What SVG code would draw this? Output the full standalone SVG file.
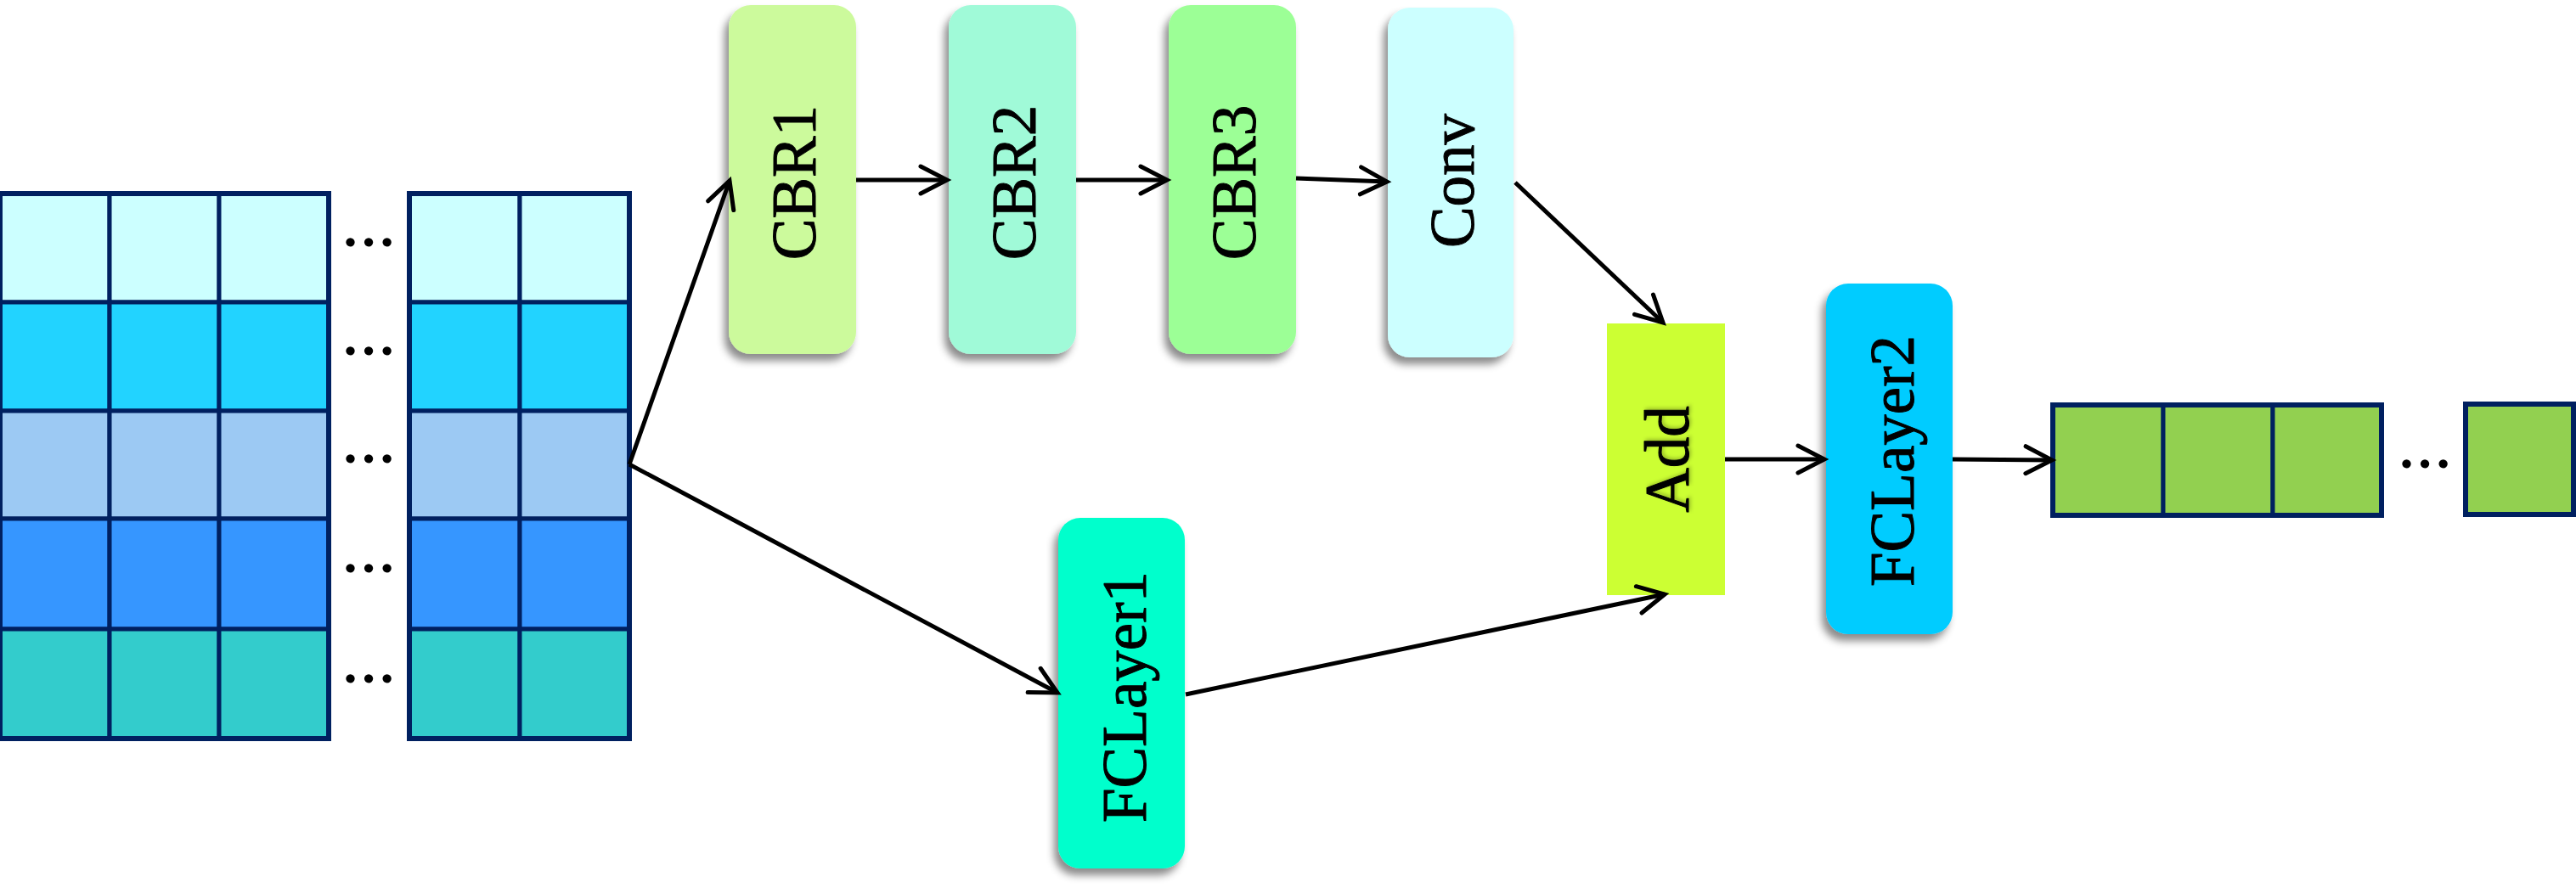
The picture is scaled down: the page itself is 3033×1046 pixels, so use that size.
<svg xmlns="http://www.w3.org/2000/svg" width="3033" height="1046" viewBox="0 0 3033 1046">
  <style>
    .cell { stroke: #002060; stroke-width: 5; }
    .outer { fill: none; stroke: #002060; stroke-width: 6; }
    .dots { font-family: "Liberation Serif", serif; font-size: 64px; font-weight: bold; fill: #000; text-anchor: middle; }
    .label { font-family: "Liberation Serif", "Times New Roman", serif; font-size: 73px; fill: #000; stroke: #000; stroke-width: 1; stroke-linejoin: round; text-anchor: middle; }
    .edge { fill: none; stroke: #000; stroke-width: 5; marker-end: url(#arrow); }
  </style>
  <defs>
    <filter id="shadow" x="-30%" y="-10%" width="160%" height="125%">
      <feDropShadow dx="-5" dy="8" stdDeviation="5" flood-color="#000" flood-opacity="0.45"/>
    </filter>
    <filter id="text-glow" x="-10%" y="-10%" width="130%" height="130%">
      <feDropShadow dx="2" dy="2" stdDeviation="2" flood-color="#000" flood-opacity="0.25"/>
    </filter>
    <marker id="arrow" markerUnits="userSpaceOnUse" markerWidth="44" markerHeight="40" viewBox="-38 -20 44 40" refX="0" refY="0" orient="auto" overflow="visible">
      <path d="M-31,-16 L0,0 L-31,16" fill="none" stroke="#000" stroke-width="5" stroke-linecap="round"/>
    </marker>
  </defs>

  <rect width="3033" height="1046" fill="#fff"/>

  <!-- input feature matrix -->
  <g id="input-matrix">
    <g id="row1">
      <rect class="cell" x="0" y="228" width="129" height="128" fill="#CCFFFF"/>
      <rect class="cell" x="129" y="228" width="129" height="128" fill="#CCFFFF"/>
      <rect class="cell" x="258" y="228" width="129" height="128" fill="#CCFFFF"/>
      <rect class="cell" x="482" y="228" width="130" height="128" fill="#CCFFFF"/>
      <rect class="cell" x="612" y="228" width="129" height="128" fill="#CCFFFF"/>
    </g>
    <g id="row2">
      <rect class="cell" x="0" y="356" width="129" height="128" fill="#22D3FF"/>
      <rect class="cell" x="129" y="356" width="129" height="128" fill="#22D3FF"/>
      <rect class="cell" x="258" y="356" width="129" height="128" fill="#22D3FF"/>
      <rect class="cell" x="482" y="356" width="130" height="128" fill="#22D3FF"/>
      <rect class="cell" x="612" y="356" width="129" height="128" fill="#22D3FF"/>
    </g>
    <g id="row3">
      <rect class="cell" x="0" y="484" width="129" height="127" fill="#9CC9F3"/>
      <rect class="cell" x="129" y="484" width="129" height="127" fill="#9CC9F3"/>
      <rect class="cell" x="258" y="484" width="129" height="127" fill="#9CC9F3"/>
      <rect class="cell" x="482" y="484" width="130" height="127" fill="#9CC9F3"/>
      <rect class="cell" x="612" y="484" width="129" height="127" fill="#9CC9F3"/>
    </g>
    <g id="row4">
      <rect class="cell" x="0" y="611" width="129" height="130" fill="#3696FF"/>
      <rect class="cell" x="129" y="611" width="129" height="130" fill="#3696FF"/>
      <rect class="cell" x="258" y="611" width="129" height="130" fill="#3696FF"/>
      <rect class="cell" x="482" y="611" width="130" height="130" fill="#3696FF"/>
      <rect class="cell" x="612" y="611" width="129" height="130" fill="#3696FF"/>
    </g>
    <g id="row5">
      <rect class="cell" x="0" y="741" width="129" height="129" fill="#33CCCC"/>
      <rect class="cell" x="129" y="741" width="129" height="129" fill="#33CCCC"/>
      <rect class="cell" x="258" y="741" width="129" height="129" fill="#33CCCC"/>
      <rect class="cell" x="482" y="741" width="130" height="129" fill="#33CCCC"/>
      <rect class="cell" x="612" y="741" width="129" height="129" fill="#33CCCC"/>
    </g>
    <rect class="outer" x="0" y="228" width="387" height="642"/>
    <rect class="outer" x="482" y="228" width="259" height="642"/>
    <text class="dots" x="434" y="290">…</text>
    <text class="dots" x="434" y="418">…</text>
    <text class="dots" x="434" y="545">…</text>
    <text class="dots" x="434" y="674">…</text>
    <text class="dots" x="434" y="804">…</text>
  </g>

  <!-- convolution branch -->
  <g id="cbr1">
    <rect x="858" y="6" width="150" height="411" rx="26" fill="#CCFA9C" filter="url(#shadow)"/>
    <text class="label" transform="translate(960,215) rotate(-90)">CBR1</text>
  </g>
  <g id="cbr2">
    <rect x="1117" y="6" width="150" height="411" rx="26" fill="#A0FAD8" filter="url(#shadow)"/>
    <text class="label" transform="translate(1219,215) rotate(-90)">CBR2</text>
  </g>
  <g id="cbr3">
    <rect x="1376" y="6" width="150" height="411" rx="26" fill="#9CFF96" filter="url(#shadow)"/>
    <text class="label" transform="translate(1478,215) rotate(-90)">CBR3</text>
  </g>
  <g id="conv">
    <rect x="1634" y="9" width="148" height="412" rx="26" fill="#CCFFFF" filter="url(#shadow)"/>
    <text class="label" transform="translate(1735,213) rotate(-90)">Conv</text>
  </g>

  <!-- fully connected branch -->
  <g id="fclayer1">
    <rect x="1246" y="610" width="149" height="413" rx="26" fill="#00FFCC" filter="url(#shadow)"/>
    <text class="label" transform="translate(1349,821) rotate(-90)">FCLayer1</text>
  </g>

  <g id="add">
    <rect x="1892" y="381" width="139" height="320" fill="#CCFF33"/>
    <text class="label" transform="translate(1988,541) rotate(-90)" filter="url(#text-glow)">Add</text>
  </g>

  <g id="fclayer2">
    <rect x="2150" y="334" width="149" height="413" rx="26" fill="#00CCFF" filter="url(#shadow)"/>
    <text class="label" transform="translate(2253,543) rotate(-90)">FCLayer2</text>
  </g>

  <!-- output vector -->
  <g id="output-vector">
    <rect class="cell" x="2417" y="477" width="130" height="130" fill="#92D050"/>
    <rect class="cell" x="2547" y="477" width="129" height="130" fill="#92D050"/>
    <rect class="cell" x="2676" y="477" width="128" height="130" fill="#92D050"/>
    <rect class="outer" x="2417" y="477" width="387" height="130"/>
    <text class="dots" x="2855" y="551">…</text>
    <rect class="cell" x="2903" y="476" width="127" height="130" fill="#92D050" style="stroke-width:6"/>
  </g>

  <!-- connectors -->
  <g id="connectors">
    <line class="edge" x1="741" y1="547" x2="859" y2="213"/>
    <line class="edge" x1="741" y1="547" x2="1245" y2="816"/>
    <line class="edge" x1="1008" y1="212" x2="1115" y2="212"/>
    <line class="edge" x1="1267" y1="212" x2="1374" y2="212"/>
    <line class="edge" x1="1526" y1="210" x2="1633" y2="214"/>
    <line class="edge" x1="1784" y1="215" x2="1958" y2="380"/>
    <line class="edge" x1="1396" y1="818" x2="1960" y2="700"/>
    <line class="edge" x1="2031" y1="541" x2="2148" y2="541"/>
    <line class="edge" x1="2299" y1="541" x2="2416" y2="542"/>
  </g>
</svg>
